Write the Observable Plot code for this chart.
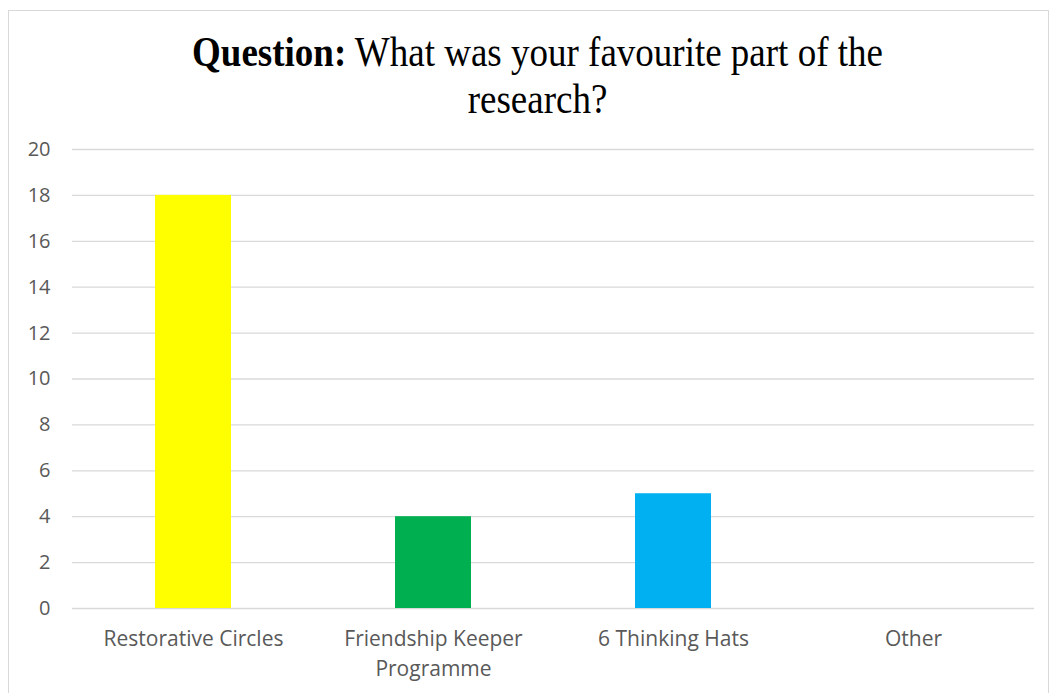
<!DOCTYPE html>
<html>
<head>
<meta charset="utf-8">
<script src="https://cdn.jsdelivr.net/npm/d3@7"></script>
<script src="https://cdn.jsdelivr.net/npm/@observablehq/plot@0.6"></script>
<style>
  html, body { margin: 0; padding: 0; background: #fff; width: 1051px; height: 693px; overflow: hidden; }
  #frame { position: absolute; left: 8px; top: 10px; width: 1041px; height: 700px; border: 1px solid #d9d9d9; box-sizing: border-box; }
  #title { position: absolute; left: 0; top: 29px; width: 1075px; text-align: center; font-family: "Liberation Serif", "Times New Roman", serif; font-size: 37px; line-height: 42px; color: #000; transform: scaleY(1.12); transform-origin: top; }
  #chart { position: absolute; left: 0; top: 120px; }
</style>
</head>
<body>
<div id="frame"></div>
<div id="title"><b>Question:</b> What was your favourite part of the<br>research?</div>
<div id="chart"></div>
<script>
const categories = ["Restorative Circles", "Friendship Keeper Programme", "6 Thinking Hats", "Other"];
const values = [18, 4, 5, 0];
const colors = ["#FFFF00", "#00B050", "#00B0F0", "#4472C4"];
const tickLabels = ["Restorative Circles", "Friendship Keeper\nProgramme", "6 Thinking Hats", "Other"];
const yTicks = [0, 2, 4, 6, 8, 10, 12, 14, 16, 18, 20];

const data = categories.map((c, i) => ({category: c, value: values[i], color: colors[i]}));

const chart = Plot.plot({
  width: 1051,
  height: 573,
  marginLeft: 72,
  marginRight: 17,
  marginTop: 29,
  marginBottom: 85,
  style: { fontFamily: "'Open Sans', sans-serif", fontSize: "20px", color: "#595959", background: "transparent" },
  x: { domain: categories, paddingInner: 0.684, paddingOuter: 0.342, label: null },
  y: { domain: [0, 20], label: null },
  marks: [
    Plot.gridY(yTicks, { stroke: "#d9d9d9", strokeOpacity: 1, strokeWidth: 1.3 }),
    Plot.axisY(yTicks, { tickSize: 0, tickPadding: 22, label: null, fill: "#595959", fontSize: 20 }),
    Plot.axisX({ tickSize: 0, tickPadding: 16, label: null, fill: "#595959", fontSize: 21,
      tickFormat: (d) => tickLabels[categories.indexOf(d)], lineHeight: 1.43 }),
    Plot.barY(data, { x: "category", y: "value", fill: "color" })
  ]
});
document.getElementById("chart").appendChild(chart);
</script>
</body>
</html>
